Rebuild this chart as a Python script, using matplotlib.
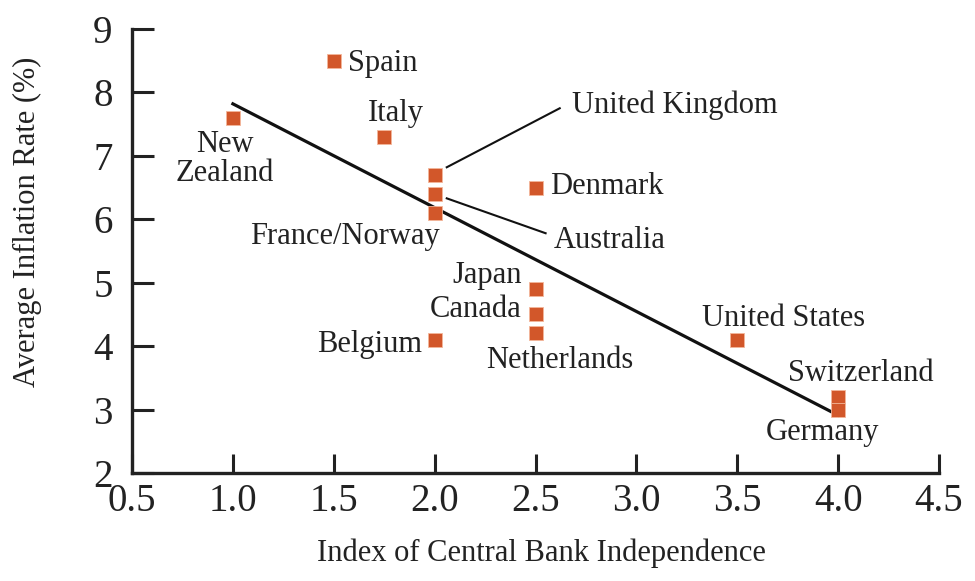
import matplotlib
matplotlib.use("Agg")
import matplotlib.pyplot as plt

countries = ["New Zealand", "Spain", "Italy", "United Kingdom", "Australia",
             "France/Norway", "Denmark", "Japan", "Canada", "Netherlands",
             "Belgium", "United States", "Switzerland", "Germany"]
cbi = [1.0, 1.5, 1.75, 2.0, 2.0, 2.0, 2.5, 2.5, 2.5, 2.5, 2.0, 3.5, 4.0, 4.0]
inflation = [7.6, 8.5, 7.3, 6.7, 6.4, 6.1, 6.5, 4.9, 4.5, 4.2, 4.1, 4.1, 3.2, 3.0]

trend_x = [1.0, 4.0]
trend_y = [7.82, 2.91]

x_ticks = [0.5, 1.0, 1.5, 2.0, 2.5, 3.0, 3.5, 4.0, 4.5]
y_ticks = [2, 3, 4, 5, 6, 7, 8, 9]

# label placement: (x, y, ha)
label_pos = {
    "New Zealand": (0.96, 6.95, "center"),
    "Spain": (1.57, 8.45, "left"),
    "Italy": (1.81, 7.66, "center"),
    "United Kingdom": (2.68, 7.79, "left"),
    "Australia": (2.59, 5.67, "left"),
    "France/Norway": (1.555, 5.735, "center"),
    "Denmark": (2.57, 6.51, "left"),
    "Japan": (2.43, 5.12, "right"),
    "Canada": (2.43, 4.57, "right"),
    "Netherlands": (2.62, 3.78, "center"),
    "Belgium": (1.94, 4.02, "right"),
    "United States": (3.73, 4.44, "center"),
    "Switzerland": (4.11, 3.57, "center"),
    "Germany": (3.92, 2.64, "center"),
}
leaders = {
    "United Kingdom": ((2.06, 6.82), (2.62, 7.75)),
    "Australia": ((2.06, 6.33), (2.55, 5.78)),
}

plt.rcParams['font.family'] = ['Liberation Serif', 'DejaVu Serif']
fig = plt.figure(figsize=(9.75, 5.81), dpi=100)
ax = fig.add_axes([0.1354, 0.1859, 0.8277, 0.7642])

ax.plot(trend_x, trend_y, color="#111111", lw=2.3, zorder=2)
ax.scatter(cbi, inflation, marker="s", s=95, color="#D2572A", zorder=3,
           edgecolors="#F3B79A", linewidths=0.6)

for name in countries:
    lx, ly, ha = label_pos[name]
    txt = name.replace("New Zealand", "New\nZealand")
    ax.text(lx, ly, txt, ha=ha, va="center", fontsize=22, color="#222222",
            linespacing=1.0)

for name, (p0, p1) in leaders.items():
    ax.plot([p0[0], p1[0]], [p0[1], p1[1]], color="#111111", lw=1.5)

ax.set_xlim(0.5, 4.5)
ax.set_ylim(2, 9)
ax.set_xticks(x_ticks)
ax.set_yticks(y_ticks)
ax.set_xticklabels([f"{v:.1f}" for v in x_ticks])
ax.set_yticklabels([str(v) for v in y_ticks])
ax.tick_params(direction="in", width=2.2, color="#222222", labelsize=28,
               labelcolor="#222222")
ax.tick_params(axis="x", length=14, pad=7)
ax.tick_params(axis="y", length=16, pad=14)
for s in ["top", "right"]:
    ax.spines[s].set_visible(False)
for s in ["left", "bottom"]:
    ax.spines[s].set_linewidth(2.4)
    ax.spines[s].set_color("#222222")

ax.set_xlabel("Index of Central Bank Independence", fontsize=22, color="#222222")
ax.set_ylabel("Average Inflation Rate (%)", fontsize=22, color="#222222")
ax.xaxis.set_label_coords(0.507, -0.148)
ax.yaxis.set_label_coords(-0.112, 0.565)

fig.savefig("out.png", dpi=100)
